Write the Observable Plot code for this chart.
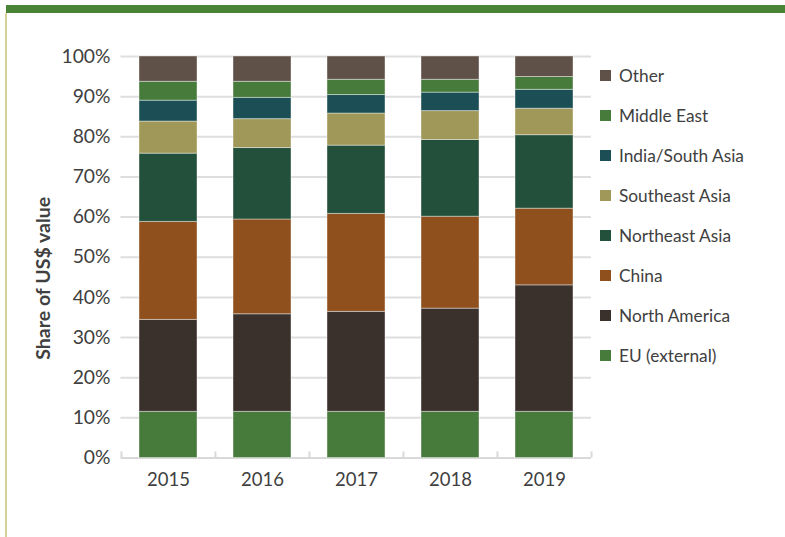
<!DOCTYPE html>
<html><head><meta charset="utf-8">
<script src="https://cdn.jsdelivr.net/npm/d3@7"></script>
<script src="https://cdn.jsdelivr.net/npm/@observablehq/plot@0.6"></script>
<style>
body{margin:0;background:#fff;}
#wrap{position:relative;width:785px;height:537px;overflow:hidden;font-family:Lato,"Open Sans",sans-serif;background:#fff;}
#topbar{position:absolute;left:6px;top:5px;width:779px;height:8px;background:#4a8236;}
#leftbar{position:absolute;left:5px;top:13px;width:2px;height:524px;background:#d8d197;}
#chart{position:absolute;left:0;top:0;}
#legend{position:absolute;left:600px;top:55.5px;}
.row{height:40px;display:flex;align-items:center;font-size:17.3px;color:#404040;white-space:nowrap;}
.sw{width:11px;height:11px;margin-right:8px;flex:none;}
</style></head>
<body>
<div id="wrap">
  <div id="topbar"></div>
  <div id="leftbar"></div>
  <div id="chart"></div>
  <div id="legend"></div>
</div>
<script>
const years = ["2015", "2016", "2017", "2018", "2019"];
const regions = ["EU (external)", "North America", "China", "Northeast Asia", "Southeast Asia", "India/South Asia", "Middle East", "Other"];
const colors = ["#467b3c", "#3a312c", "#8f501e", "#22503a", "#a09858", "#1c4f55", "#467b3c", "#5f5148"];
const euExternal     = [11.5, 11.5, 11.5, 11.5, 11.5];
const northAmerica   = [22.9, 24.3, 24.9, 25.7, 31.5];
const china          = [24.4, 23.6, 24.4, 22.9, 19.1];
const northeastAsia  = [17.0, 17.8, 17.0, 19.1, 18.3];
const southeastAsia  = [8.0, 7.2, 8.0, 7.2, 6.6];
const indiaSouthAsia = [5.2, 5.3, 4.6, 4.6, 4.7];
const middleEast     = [4.7, 4.0, 3.8, 3.2, 3.2];
const other          = [6.3, 6.3, 5.8, 5.8, 5.1];
const yTicks = [0, 10, 20, 30, 40, 50, 60, 70, 80, 90, 100];
const yTitle = "Share of US$ value";

const series = [euExternal, northAmerica, china, northeastAsia, southeastAsia, indiaSouthAsia, middleEast, other];
const data = [];
regions.forEach((r, i) => years.forEach((y, j) => data.push({year: y, region: r, value: series[i][j]})));

const chart = Plot.plot({
  width: 785, height: 537,
  marginLeft: 120.5, marginRight: 194, marginTop: 56, marginBottom: 79.5,
  style: {fontFamily: "Lato, 'Open Sans', sans-serif", fontSize: "18px", color: "#404040", background: "transparent"},
  x: {domain: years, paddingInner: 0.38, paddingOuter: 0.19, axis: null},
  y: {domain: [0, 100], axis: null},
  color: {domain: regions, range: colors},
  marks: [
    Plot.gridY(yTicks.filter(d => d > 0), {stroke: "#dedede", strokeOpacity: 1, strokeWidth: 2}),
    Plot.ruleY([0], {stroke: "#d9d9d9", strokeWidth: 2}),
    Plot.ruleX(years, {x: d => d, y1: 0, y2: 1.5, dx: -47.05, stroke: "#d9d9d9", strokeWidth: 2}),
    Plot.ruleX(years.slice(-1), {x: d => d, y1: 0, y2: 1.5, dx: 47.05, stroke: "#d9d9d9", strokeWidth: 2}),
    Plot.barY(data, {x: "year", y: "value", fill: "region", order: regions, stroke: "#ffffff", strokeOpacity: 0.4, strokeWidth: 1}),
    Plot.axisY(yTicks, {label: null, tickSize: 0, tickPadding: 10.5, tickFormat: d => d + "%", fill: "#404040", fontSize: 19.3}),
    Plot.axisX({label: null, tickSize: 0, tickPadding: 14.5, fill: "#404040", fontSize: 18.5}),
    Plot.text([yTitle], {frameAnchor: "left", textAnchor: "middle", text: d => d, rotate: -90, dx: -77, dy: 21, fontWeight: "bold", fontSize: 19.5, fill: "#404040"})
  ]
});
document.getElementById("chart").appendChild(chart);

const legend = document.getElementById("legend");
regions.map((r, i) => [r, colors[i]]).reverse().forEach(([r, c]) => {
  const row = document.createElement("div");
  row.className = "row";
  row.innerHTML = `<span class="sw" style="background:${c}"></span><span>${r}</span>`;
  legend.appendChild(row);
});
</script>
</body></html>
